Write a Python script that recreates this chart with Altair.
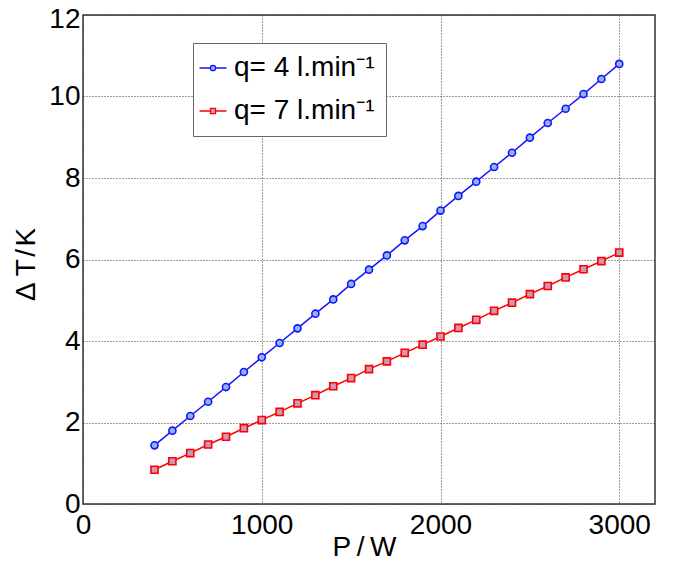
import altair as alt
import pandas as pd

power_w = [400, 500, 600, 700, 800, 900, 1000, 1100, 1200, 1300, 1400, 1500, 1600,
           1700, 1800, 1900, 2000, 2100, 2200, 2300, 2400, 2500, 2600, 2700, 2800,
           2900, 3000]
dT_q4 = [1.44, 1.80, 2.16, 2.51, 2.87, 3.24, 3.60, 3.95, 4.31, 4.67, 5.02, 5.40, 5.75,
         6.10, 6.47, 6.82, 7.20, 7.56, 7.91, 8.27, 8.62, 8.99, 9.35, 9.70, 10.06,
         10.43, 10.80]
dT_q7 = [0.84, 1.05, 1.25, 1.46, 1.65, 1.86, 2.06, 2.26, 2.47, 2.67, 2.89, 3.09, 3.31,
         3.50, 3.71, 3.91, 4.11, 4.32, 4.52, 4.74, 4.94, 5.15, 5.35, 5.56, 5.76,
         5.96, 6.17]
series_names = ["q= 4 l.min\u207b\u00b9", "q= 7 l.min\u207b\u00b9"]
x_ticks = [0, 1000, 2000, 3000]
y_ticks = [0, 2, 4, 6, 8, 10, 12]

line_colors = ["#1414ff", "#ff0000"]
fill_colors = ["#8fb4f2", "#c99ab8"]
plot_shapes = ["circle", "square"]
legend_shapes = [
    "M-5,0L-1,0M1,0L5,0M1,0A1,1,0,1,1,-1,0A1,1,0,1,1,1,0Z",
    "M-5,0L-0.95,0M0.95,0L5,0M-0.95,-0.95L0.95,-0.95L0.95,0.95L-0.95,0.95Z",
]

rows = []
for name, vals in zip(series_names, [dT_q4, dT_q7]):
    for p, t in zip(power_w, vals):
        rows.append({"P": p, "dT": t, "series": name})
df = pd.DataFrame(rows)

FONT = "Liberation Sans"
FS = 28

x_enc = alt.X("P:Q", scale=alt.Scale(domain=[0, 3200], nice=False, zero=False),
              axis=alt.Axis(values=x_ticks, title="P\u2009/\u2009W", labelFlush=False,
                            labelPadding=7, titlePadding=-6, titleX=281, format="d"))
y_enc = alt.Y("dT:Q", scale=alt.Scale(domain=[0, 12], nice=False),
              axis=alt.Axis(values=y_ticks, title="\u0394 T\u200a/\u200aK", labelPadding=3,
                            titlePadding=8, titleY=249, format="d",
                            labelOffset={"condition": {"test": "datum.value == 12", "value": 4},
                                         "value": 0}))

base = alt.Chart(df).encode(x=x_enc, y=y_enc)

line = base.mark_line(strokeWidth=1.5).encode(
    color=alt.Color("series:N", scale=alt.Scale(domain=series_names, range=line_colors),
                    legend=None)
)

pts = base.mark_point(filled=True, opacity=1, size=50, strokeWidth=1.6).encode(
    shape=alt.Shape("series:N", scale=alt.Scale(domain=series_names, range=plot_shapes),
                    legend=None),
    fill=alt.Fill("series:N", scale=alt.Scale(domain=series_names, range=fill_colors),
                  legend=None),
    stroke=alt.Stroke("series:N", scale=alt.Scale(domain=series_names, range=line_colors),
                      legend=None),
)

leg = alt.Legend(
    title=None, orient="none", legendX=110, legendY=28,
    padding=11, fillColor="white", strokeColor="#666666",
    labelFont=FONT, labelFontSize=FS, labelColor="black", labelOffset=7,
    symbolSize=29, symbolOffset=-5, symbolStrokeWidth=1.3, rowPadding=15,
    labelLimit=400,
)

legend_layer = alt.Chart(df).transform_filter("datum.P < 0").mark_point(
    filled=True, opacity=1, strokeWidth=1.3
).encode(
    x=x_enc, y=y_enc,
    shape=alt.Shape("series:N", scale=alt.Scale(domain=series_names, range=legend_shapes),
                    legend=leg),
    fill=alt.Fill("series:N", scale=alt.Scale(domain=series_names, range=fill_colors),
                  legend=leg),
    stroke=alt.Stroke("series:N", scale=alt.Scale(domain=series_names, range=line_colors),
                      legend=leg),
)

chart = alt.layer(line, pts, legend_layer).resolve_scale(
    color="independent", shape="independent", fill="independent", stroke="independent"
).properties(
    width=572, height=489,
    autosize=alt.AutoSizeParams(type="none"),
    padding={"left": 75, "top": 7, "right": 12, "bottom": 55},
    background="white",
).configure_view(
    stroke="#333333", strokeWidth=1.5
).configure_axis(
    labelFont=FONT, labelFontSize=FS, labelColor="black",
    titleFont=FONT, titleFontSize=FS, titleFontWeight="normal", titleColor="black",
    domain=False, ticks=False,
    grid=True, gridColor="#3a3a3a", gridDash=[1, 2], gridWidth=1,
).configure_legend(
    strokeWidth=1
)

chart.save("out.html", embed_options={"renderer": "svg", "actions": False})
